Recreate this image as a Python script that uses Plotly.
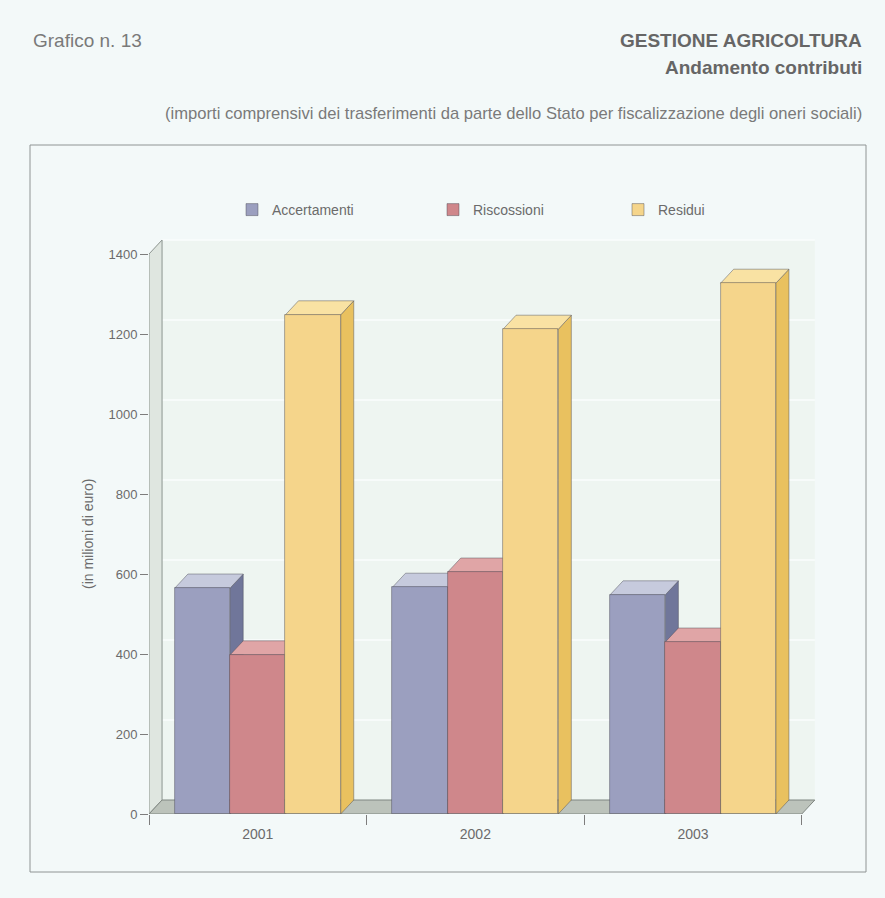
import plotly.graph_objects as go

# ---- data (milioni di euro) ----
years = ["2001", "2002", "2003"]
series_names = ["Accertamenti", "Riscossioni", "Residui"]
accertamenti = [565, 567, 548]
riscossioni = [398, 605, 430]
residui = [1248, 1212, 1327]
y_ticks = [0, 200, 400, 600, 800, 1000, 1200, 1400]

series_values = [accertamenti, riscossioni, residui]

# face colours per series: front, side, top
front_cols = ["#9b9fbf", "#cf878b", "#f5d58b"]
side_cols = ["#70769a", "#b96b70", "#e9c15f"]
top_cols = ["#c6cadd", "#e0a5a6", "#f9e2a3"]

# ---- geometry of the plotting area (pixels) ----
FIG_W, FIG_H = 885, 898
L, T, W, H = 149, 238, 668, 576
X_MIN, X_MAX = -0.5, 2.57
Y_MIN, Y_MAX = 0, 1440

BAR_W = 0.254            # width of a single bar in category units
DEPTH_X = 0.06           # pseudo-3D depth offset along x (category units)
DEPTH_Y = 35             # pseudo-3D depth offset along y (value units)
Y_TOP = y_ticks[-1]


def px_x(px):
    return (px - L) / W


def px_y(py):
    return (T + H - py) / H


def poly(points):
    return "M " + " L ".join(f"{x},{y}" for x, y in points) + " Z"


TEXT = "#6b6b6b"
FONT = "Liberation Sans, Arial, sans-serif"

fig = go.Figure()
shapes = []

# outer frame
shapes.append(dict(type="rect", xref="paper", yref="paper",
                   x0=px_x(30), x1=px_x(866), y0=px_y(872), y1=px_y(145),
                   line=dict(color="#8f9494", width=1), layer="below"))

# back wall
x_left, x_right = X_MIN, 2.5
shapes.append(dict(type="rect", xref="x", yref="y",
                   x0=x_left + DEPTH_X, x1=x_right + DEPTH_X,
                   y0=DEPTH_Y, y1=Y_TOP + DEPTH_Y,
                   fillcolor="#eef5f1", line=dict(width=0), layer="below"))
# gridlines on the back wall
for v in y_ticks[1:]:
    shapes.append(dict(type="line", xref="x", yref="y",
                       x0=x_left + DEPTH_X, x1=x_right + DEPTH_X,
                       y0=v + DEPTH_Y, y1=v + DEPTH_Y,
                       line=dict(color="#fafdfc", width=1.5), layer="below"))
# left wall
shapes.append(dict(type="path", xref="x", yref="y",
                   path=poly([(x_left, 0), (x_left + DEPTH_X, DEPTH_Y),
                              (x_left + DEPTH_X, Y_TOP + DEPTH_Y), (x_left, Y_TOP)]),
                   fillcolor="#dfe6e0", line=dict(color="#8d9590", width=1),
                   layer="below"))
# floor
shapes.append(dict(type="path", xref="x", yref="y",
                   path=poly([(x_left, 0), (x_right, 0),
                              (x_right + DEPTH_X, DEPTH_Y), (x_left + DEPTH_X, DEPTH_Y)]),
                   fillcolor="#bcc3bb", line=dict(color="#7f8681", width=1),
                   layer="below"))

# side and top faces of each bar, drawn left to right
edge = dict(color="rgba(70,70,80,0.55)", width=0.8)
for ci in range(len(years)):
    for si, vals in enumerate(series_values):
        v = vals[ci]
        x0 = ci - 1.5 * BAR_W + si * BAR_W
        x1 = x0 + BAR_W
        shapes.append(dict(type="path", xref="x", yref="y",
                           path=poly([(x1, 0), (x1 + DEPTH_X, DEPTH_Y),
                                      (x1 + DEPTH_X, v + DEPTH_Y), (x1, v)]),
                           fillcolor=side_cols[si], line=edge, layer="below"))
        shapes.append(dict(type="path", xref="x", yref="y",
                           path=poly([(x0, v), (x0 + DEPTH_X, v + DEPTH_Y),
                                      (x1 + DEPTH_X, v + DEPTH_Y), (x1, v)]),
                           fillcolor=top_cols[si], line=edge, layer="below"))

# front faces
legend_ids = ["legend", "legend2", "legend3"]
for si, (name, vals) in enumerate(zip(series_names, series_values)):
    fig.add_trace(go.Bar(
        x=list(range(len(years))), y=vals, name=name,
        width=BAR_W, offset=-1.5 * BAR_W + si * BAR_W,
        marker=dict(color=front_cols[si], line=edge),
        legend=legend_ids[si], showlegend=True,
        hovertemplate="%{y}<extra>" + name + "</extra>",
    ))

legend_x = [232, 433, 618]
legend_common = dict(orientation="h", yanchor="middle", xanchor="left",
                     y=px_y(210), bgcolor="rgba(0,0,0,0)", borderwidth=0,
                     font=dict(family=FONT, size=14, color=TEXT))

annotations = [
    dict(text="Grafico n. 13", x=px_x(31), y=px_y(40), xanchor="left",
         font=dict(size=19, color="#7a7a7a")),
    dict(text="<b>GESTIONE AGRICOLTURA</b>", x=px_x(864), y=px_y(40), xanchor="right",
         font=dict(size=19, color="#666666")),
    dict(text="<b>Andamento contributi</b>", x=px_x(864), y=px_y(67), xanchor="right",
         font=dict(size=19, color="#666666")),
    dict(text="(importi comprensivi dei trasferimenti da parte dello Stato per "
              "fiscalizzazione degli oneri sociali)",
         x=px_x(864), y=px_y(113), xanchor="right",
         font=dict(size=16.6, color="#7a7a7a")),
    dict(text="(in milioni di euro)", x=px_x(88), y=px_y(534), textangle=-90,
         xanchor="center", font=dict(size=14, color=TEXT)),
]
for a in annotations:
    a.update(xref="paper", yref="paper", showarrow=False, yanchor="middle")
    a["font"].setdefault("family", FONT)

fig.update_layout(
    width=FIG_W, height=FIG_H,
    margin=dict(l=L, r=FIG_W - L - W, t=T, b=FIG_H - T - H, autoexpand=False),
    paper_bgcolor="#f3f9f9", plot_bgcolor="rgba(0,0,0,0)",
    font=dict(family=FONT, color=TEXT),
    showlegend=True,
    shapes=shapes, annotations=annotations,
    legend=dict(x=px_x(legend_x[0]), **legend_common),
    legend2=dict(x=px_x(legend_x[1]), **legend_common),
    legend3=dict(x=px_x(legend_x[2]), **legend_common),
    xaxis=dict(range=[X_MIN, X_MAX], tickmode="array", tickvals=list(range(len(years))),
               ticktext=years, ticks="", showgrid=False, zeroline=False, showline=False,
               ticklabelstandoff=10,
               tickfont=dict(size=14, color=TEXT),
               minor=dict(tickmode="array", tickvals=[-0.5, 0.5, 1.5, 2.5],
                          ticks="outside", ticklen=10, tickcolor="#7d7d7d",
                          showgrid=False)),
    yaxis=dict(range=[Y_MIN, Y_MAX], tickmode="array", tickvals=y_ticks,
               ticks="outside", ticklen=8, tickcolor="#7d7d7d",
               showgrid=False, zeroline=False, showline=False,
               tickfont=dict(size=13, color=TEXT)),
    bargap=0, barmode="overlay",
)

fig.write_html("out.html")
